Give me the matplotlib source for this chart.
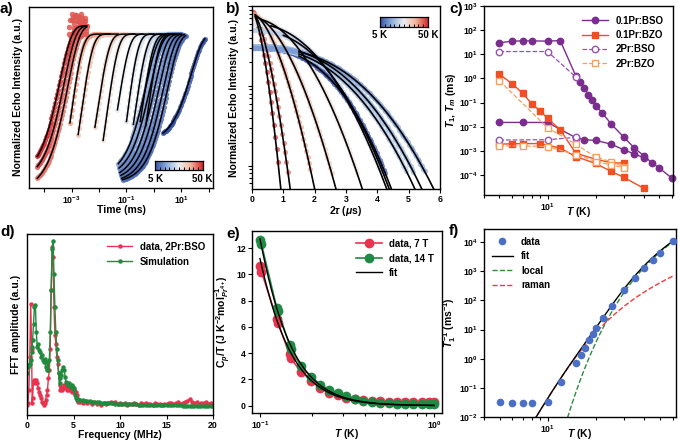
import numpy as np
import matplotlib
matplotlib.use('Agg')
import matplotlib.pyplot as plt
from matplotlib.colors import Normalize, LinearSegmentedColormap
from matplotlib.ticker import FixedLocator, FuncFormatter, NullFormatter, NullLocator

plt.rcParams['font.family'] = ['Liberation Sans', 'DejaVu Sans']
plt.rcParams['font.weight'] = 'bold'
plt.rcParams['axes.labelweight'] = 'bold'
plt.rcParams['mathtext.fontset'] = 'custom'
plt.rcParams['mathtext.rm'] = 'Liberation Sans:bold'
plt.rcParams['mathtext.it'] = 'Liberation Sans:italic:bold'
plt.rcParams['mathtext.bf'] = 'Liberation Sans:bold'
plt.rcParams['mathtext.sf'] = 'Liberation Sans:bold'
plt.rcParams['axes.linewidth'] = 1.0
plt.rcParams['xtick.labelsize'] = 6.3
plt.rcParams['ytick.labelsize'] = 6.3
plt.rcParams['xtick.major.size'] = 3
plt.rcParams['ytick.major.size'] = 3
plt.rcParams['xtick.minor.size'] = 2
plt.rcParams['ytick.minor.size'] = 2
plt.rcParams['xtick.major.pad'] = 1.5
plt.rcParams['ytick.major.pad'] = 1.5

# ---------------- data ----------------
# panel a: recovery curves (log10 times in ms)
a_T = [50, 47, 44, 40, 36, 33, 30, 27, 25, 23, 21, 19, 14, 12, 11, 10, 9, 8, 5]
a_start = [-4.25, -4.25, -4.25, -3.06, -2.76, -2.15, -1.85, -1.33, -1.0, -0.75, -0.5, -0.3,
           -1.3, -1.27, -1.24, -1.2, -1.17, -1.14, 0.33]
a_y0 = [0.16, 0.09, 0.01, 0.39, 0.31, 0.36, 0.27, 0.48, 0.40, 0.38, 0.40, 0.37,
        0.11, 0.08, 0.05, 0.03, 0.01, 0.0, 0.32]
a_mid = [-3.5, -3.37, -3.25, -2.82, -2.49, -1.88, -1.57, -1.1, -0.78, -0.5, -0.25, -0.05,
         -0.4, -0.25, -0.1, 0.05, 0.2, 0.35, 1.25]
a_end = [-2.45, -2.45, -2.45, -1.6, -1.3, -0.7, -0.4, 0.0, 0.3, 0.6, 0.8, 1.0,
         0.6, 0.75, 0.9, 1.0, 1.1, 1.15, 1.85]
a_top = [1.057, 1.057, 1.057] + [1.0] * 16
cloud_logt = [-3.10, -3.05, -3.0, -2.95, -2.9, -2.85, -2.8, -2.75, -2.7, -2.65, -2.6, -2.55, -2.5, -2.47,
              -3.08, -3.02, -2.97, -2.92, -2.87, -2.82, -2.77, -2.72, -2.67, -2.62, -2.57, -2.52, -2.48,
              -2.98, -2.88, -2.78, -2.68, -2.58]
cloud_y = [1.0, 1.10, 0.97, 1.12, 1.04, 1.13, 0.99, 1.09, 1.06, 1.14, 1.0, 1.08, 1.11, 1.02,
           1.05, 0.98, 1.10, 1.07, 1.13, 1.01, 1.12, 1.08, 0.99, 1.11, 1.05, 1.09, 1.0,
           1.14, 1.10, 1.04, 1.12, 1.08]

# panel b: echo decays (t_end where intensity reaches the axis floor)
b_T = [50, 45, 40, 35, 30, 26, 22, 5, 20, 17, 14]
b_tend = [0.92, 1.22, 2.0, 2.68, 3.52, 4.3, 4.38, 4.45, 5.2, 5.42, 5.8]
b_amp = [0.85, 0.85, 0.8, 0.75, 0.7, 0.6, 0.5, 0.3, 0.3, 0.32, 0.3]
b_n = [1.6, 1.6, 1.7, 1.8, 2.0, 2.2, 2.3, 2.6, 2.5, 2.5, 2.6]
b_fitstart = [0.1, 0.1, 0.1, 0.2, 0.3, 0.6, 1.0, 1.5, 1.5, 1.5, 1.5]
b_floor = 0.0051

# panel c: relaxation times (ms)
c_T_bso = [5, 6, 7, 8, 10, 12, 15, 16, 17, 18, 19, 20, 22, 25, 30, 35, 40, 45, 50, 60]
c_T1_bso = [30, 35, 36, 36, 35, 37, 1.3, 0.68, 0.4, 0.21, 0.13, 0.075, 0.037, 0.013,
            0.0037, 0.0013, 6.3e-4, 3.2e-4, 1.95e-4, 7.4e-5]
c_Tm_T_bso = [5, 7, 10, 15, 17, 20, 25, 30, 35, 40]
c_Tm_bso = [0.015, 0.015, 0.015, 0.0035, 0.0029, 0.0027, 0.0019, 0.0011, 7.4e-4, 5.2e-4]
c_T_bzo = [5, 6, 7, 8, 9, 10, 12, 15, 20, 25, 30]
c_T1_bzo = [1.5, 0.6, 0.24, 0.085, 0.045, 0.022, 0.0075, 8e-4, 4.5e-4, 3.2e-4, 3.1e-4]
c_Tm_T_bzo = [5, 6, 7, 9, 12, 15, 20, 25, 30, 40]
c_Tm_bzo = [1.9e-3, 1.95e-3, 2.0e-3, 2.0e-3, 1.3e-3, 5.8e-4, 3.0e-4, 1.4e-4, 8e-5, 2.8e-5]
c_T_2bso = [5, 10, 15]
c_T1_2bso = [13, 13, 1.15]
c_Tm_2bso = [2.8e-3, 2.9e-3, 3.6e-3]
c_T_2bzo = [5, 10, 15, 20, 25, 30]
c_T1_2bzo = [0.8, 0.009, 0.0019, 5.5e-4, 3.5e-4, 2.2e-4]
c_Tm_T_2bzo = [5, 7, 10, 15, 20, 25, 30]
c_Tm_2bzo = [1.6e-3, 1.6e-3, 1.5e-3, 7e-4, 3.6e-4, 2.6e-4, 2.0e-4]

# panel d: FFT spectra
d_freq = [0.0, 0.1, 0.2, 0.3, 0.4, 0.5, 0.55, 0.6, 0.7, 0.8, 0.9, 1.0, 1.1, 1.2, 1.3, 1.4, 1.5, 1.6,
          1.7, 1.8, 1.9, 2.0, 2.1, 2.2, 2.3, 2.4, 2.5, 2.6, 2.7, 2.8, 2.9, 3.0, 3.1, 3.2, 3.3, 3.4,
          3.5, 3.6, 3.7, 3.8, 3.9, 4.0, 4.1, 4.2, 4.3, 4.4, 4.5, 4.6, 4.7, 4.8, 4.9, 5.0, 5.1, 5.2,
          5.3, 5.4, 5.5]
d_data = [0.01, 0.02, 0.10, 0.30, 0.62, 0.35, 0.02, 0.05, 0.16, 0.15, 0.14, 0.16, 0.14, 0.11,
          0.09, 0.07, 0.05, 0.03, 0.02, 0.01, 0.02, 0.04, 0.07, 0.10, 0.17, 0.22, 0.35, 0.70, 0.96,
          0.90, 0.60, 0.43, 0.38, 0.30, 0.26, 0.20, 0.13, 0.10, 0.11, 0.10, 0.11, 0.13, 0.12, 0.11,
          0.10, 0.11, 0.10, 0.11, 0.10, 0.09, 0.10, 0.09, 0.10, 0.08, 0.09, 0.07, 0.03]
d_sim = [0.20, 0.24, 0.25, 0.26, 0.28, 0.33, 0.36, 0.40, 0.50, 0.60, 0.61, 0.45, 0.36, 0.38,
         0.34, 0.33, 0.30, 0.31, 0.28, 0.27, 0.29, 0.24, 0.22, 0.27, 0.22, 0.28, 0.45, 0.70, 0.95,
         1.0, 0.80, 0.60, 0.45, 0.35, 0.28, 0.20, 0.14, 0.17, 0.19, 0.22, 0.24, 0.22, 0.18, 0.15,
         0.14, 0.13, 0.14, 0.13, 0.12, 0.13, 0.12, 0.11, 0.10, 0.07, 0.05, 0.04, 0.045]
d_tail_freq = [5.75, 6.0, 6.25, 6.5, 6.75, 7.0, 7.25, 7.5, 7.75, 8.0, 8.25, 8.5, 8.75, 9.0, 9.25,
               9.5, 9.75, 10.0, 10.25, 10.5, 10.75, 11.0, 11.25, 11.5, 11.75, 12.0, 12.25, 12.5,
               12.75, 13.0, 13.25, 13.5, 13.75, 14.0, 14.25, 14.5, 14.75, 15.0, 15.25, 15.5, 15.75,
               16.0, 16.25, 16.5, 16.75, 17.0, 17.25, 17.5, 17.75, 18.0, 18.25, 18.5, 18.75, 19.0,
               19.25, 19.5, 19.75, 20.0]
d_tail_data = [0.030, 0.025, 0.032, 0.022, 0.028, 0.018, 0.026, 0.015, 0.020, 0.012, 0.022, 0.016,
               0.025, 0.030, 0.022, 0.027, 0.018, 0.024, 0.015, 0.020, 0.013, 0.019, 0.014, 0.022,
               0.016, 0.012, 0.020, 0.015, 0.023, 0.014, 0.018, 0.012, 0.021, 0.015, 0.019, 0.011,
               0.017, 0.014, 0.020, 0.025, 0.016, 0.022, 0.028, 0.018, 0.024, 0.030, 0.035, 0.045,
               0.030, 0.022, 0.028, 0.018, 0.024, 0.020, 0.030, 0.018, 0.025, 0.015]
d_tail_sim = [0.040, 0.038, 0.036, 0.034, 0.032, 0.030, 0.029, 0.027, 0.026, 0.025, 0.024, 0.023,
              0.022, 0.021, 0.020, 0.019, 0.019, 0.018, 0.017, 0.016, 0.016, 0.015, 0.015, 0.014,
              0.014, 0.013, 0.013, 0.012, 0.012, 0.011, 0.011, 0.011, 0.010, 0.010, 0.010, 0.009,
              0.009, 0.009, 0.009, 0.008, 0.008, 0.008, 0.008, 0.008, 0.007, 0.007, 0.007, 0.007,
              0.007, 0.0065, 0.0065, 0.0065, 0.006, 0.006, 0.006, 0.006, 0.0055, 0.0055]

# panel e: heat capacity
e_T = [0.100, 0.102, 0.125, 0.127, 0.148, 0.150, 0.172, 0.197, 0.222, 0.25, 0.28, 0.31, 0.35,
       0.39, 0.44, 0.49, 0.55, 0.61, 0.68, 0.76, 0.85, 0.93, 1.0]
e_7T = [10.6, 10.2, 6.6, 6.3, 3.9, 3.6, 2.6, 1.9, 1.35, 1.0, 0.8, 0.6, 0.5, 0.42, 0.36, 0.32,
        0.30, 0.28, 0.27, 0.26, 0.26, 0.25, 0.25]
e_14T = [12.6, 12.3, 7.4, 7.2, 4.6, 4.3, 3.0, 2.2, 1.6, 1.2, 0.95, 0.7, 0.5, 0.38, 0.3, 0.22,
         0.18, 0.15, 0.13, 0.12, 0.11, 0.11, 0.10]
e_fit_at_01 = [11.2, 12.7]
e_gap = 0.125

# panel f: relaxation rate
f_T = [5, 6, 7, 8, 10, 12, 15, 16, 17, 18, 19, 20, 22, 25, 30, 35, 40, 45, 50, 60]
f_rate = [0.033, 0.031, 0.031, 0.031, 0.032, 0.16, 0.7, 1.3, 2.4, 4.4, 7, 11, 24, 65, 230, 600,
          1300, 2400, 4200, 10800]
f_delta = 236.0
f_local_at60 = 10000.0
f_theta = 150.0
f_raman_at20 = 8.0

# ---------------- figure ----------------
W, H = 678, 445
fig = plt.figure(figsize=(W / 100, H / 100), dpi=100)


def px_axes(l, t, r, b):
    return fig.add_axes([l / W, 1 - b / H, (r - l) / W, (b - t) / H])


cmap = LinearSegmentedColormap.from_list(
    'tk', ['#3553a6', '#8fb0de', '#eeeef2', '#f3b49a', '#d3262b'])
norm = Normalize(5, 50)
LBL = 7.5


def logfmt_sel(keep):
    def f(v, p):
        e = int(round(np.log10(v)))
        return r'$\mathdefault{10^{%d}}$' % e if e in keep else ''
    return FuncFormatter(f)


def colorbar_inset(l, t, r, b, lx, rx, ty):
    cax = px_axes(l, t, r, b)
    grad = np.linspace(0, 1, 256)[None, :]
    cax.imshow(grad, aspect='auto', cmap=cmap, extent=[0, 1, 0, 1])
    cax.set_yticks([])
    cax.set_xticks(np.linspace(0.1, 0.9, 9))
    cax.set_xticklabels([])
    cax.tick_params(axis='x', direction='in', length=2, width=0.7)
    for s in cax.spines.values():
        s.set_linewidth(0.9)
    fig.text(lx / W, 1 - ty / H, '5 K', fontsize=7, ha='left', va='center')
    fig.text(rx / W, 1 - ty / H, '50 K', fontsize=7, ha='right', va='center')


def set_xlabel_at(ax, text, top_px, ax_bottom_px, ax_h_px):
    ax.set_xlabel(text, fontsize=LBL, va='top')
    ax.xaxis.set_label_coords(0.5, -(top_px - ax_bottom_px) / ax_h_px)


# ---- panel a ----
axa = px_axes(29, 7, 213, 188)
axa.set_xscale('log')
for i in range(len(a_T)):
    ts = 10 ** a_start[i]
    tm = 10 ** a_mid[i]
    P = a_top[i]
    T1 = (tm - ts) / np.log(2)
    col = cmap(norm(min(a_T[i], 50)))
    tl = np.logspace(a_start[i], a_end[i], 200)
    yl = P - (P - a_y0[i]) * np.exp(-(tl - ts) / T1)
    npts = int((a_end[i] - a_start[i]) / 0.035) + 2
    tp = np.logspace(a_start[i], a_end[i], npts)
    yp = P - (P - a_y0[i]) * np.exp(-(tp - ts) / T1)
    axa.scatter(tp, yp, s=14, color=col, alpha=0.8, linewidths=0, zorder=1)
    axa.plot(tl, yl, color='black', lw=1.1, zorder=3)
axa.scatter(10 ** np.array(cloud_logt), cloud_y, s=16, color=cmap(norm(46)), alpha=0.85,
            linewidths=0, zorder=1)
axa.set_xlim(10 ** -4.55, 10 ** 2.15)
axa.set_ylim(-0.057, 1.186)
axa.set_yticks([])
axa.xaxis.set_major_locator(FixedLocator([1e-4, 1e-3, 1e-2, 1e-1, 1, 10, 100]))
axa.xaxis.set_major_formatter(logfmt_sel((-3, -1, 1)))
axa.xaxis.set_minor_locator(NullLocator())
set_xlabel_at(axa, 'Time (ms)', 205, 188, 181)
axa.set_ylabel('Normalized Echo Intensity (a.u.)', fontsize=LBL, labelpad=4)
colorbar_inset(155, 161, 203, 170, 148, 213, 179)

# ---- panel b ----
axb = px_axes(252, 6, 440, 189)
axb.set_yscale('log')
for i in range(len(b_T)):
    A = b_amp[i]
    Tm = b_tend[i] / np.log(A / b_floor) ** (1.0 / b_n[i])
    col = cmap(norm(b_T[i]))
    tp = np.arange(0.02, b_tend[i], 0.045)
    yp = A * np.exp(-(tp / Tm) ** b_n[i])
    m = yp > 0.008
    axb.scatter(tp[m], yp[m], s=14, color=col, alpha=0.65, linewidths=0, zorder=1)
    tl = np.linspace(b_fitstart[i], b_tend[i], 300)
    yl = A * np.exp(-(tl / Tm) ** b_n[i])
    axb.plot(tl, yl, color='black', lw=1.2, zorder=3)
axb.set_xlim(0, 6)
axb.set_ylim(b_floor, 1.0)
axb.set_xticks([0, 1, 2, 3, 4, 5, 6])
axb.yaxis.set_major_formatter(NullFormatter())
axb.yaxis.set_minor_formatter(NullFormatter())
set_xlabel_at(axb, r'2$\tau$ ($\mu$s)', 204, 189, 183)
axb.set_ylabel('Normalized Echo Intensity (a.u.)', fontsize=LBL, labelpad=4)
colorbar_inset(380, 17, 428, 27, 372, 438, 35)

# ---- panel c ----
axc = px_axes(484, 6, 673, 195)
axc.set_xscale('log')
axc.set_yscale('log')
PUR = '#7b2d8e'
PUR2 = '#9c4fb3'
ORG = '#f04e23'
ORG2 = '#f5a05e'
MS = 4.6
axc.plot(c_T_bso, c_T1_bso, '-o', color=PUR, ms=MS, lw=1.0, label='0.1Pr:BSO', clip_on=False)
axc.plot(c_Tm_T_bso, c_Tm_bso, '-o', color=PUR, ms=MS, lw=1.0, clip_on=False)
axc.plot(c_T_bzo, c_T1_bzo, '-s', color=ORG, ms=MS, lw=1.0, label='0.1Pr:BZO')
axc.plot(c_Tm_T_bzo, c_Tm_bzo, '-s', color=ORG, ms=MS, lw=1.0)
axc.plot(c_T_2bso, c_T1_2bso, '--o', color=PUR2, ms=MS, lw=0.9, mfc='white', label='2Pr:BSO')
axc.plot(c_T_2bso, c_Tm_2bso, '--o', color=PUR2, ms=MS, lw=0.9, mfc='white')
axc.plot(c_T_2bzo, c_T1_2bzo, '--s', color=ORG2, ms=MS, lw=0.9, mfc='white', label='2Pr:BZO')
axc.plot(c_Tm_T_2bzo, c_Tm_2bzo, '--s', color=ORG2, ms=MS, lw=0.9, mfc='white')
axc.set_xlim(4.0, 61)
axc.set_ylim(10 ** -4.83, 1e3)
axc.xaxis.set_major_locator(FixedLocator([10]))
axc.xaxis.set_major_formatter(FuncFormatter(lambda v, p: r'$\mathdefault{10^{1}}$'))
axc.xaxis.set_minor_locator(FixedLocator([4, 5, 6, 7, 8, 9, 20, 30, 40, 50, 60]))
axc.xaxis.set_minor_formatter(NullFormatter())
axc.yaxis.set_major_locator(FixedLocator([1e-4, 1e-3, 1e-2, 1e-1, 1, 10, 100, 1000]))
axc.yaxis.set_minor_locator(NullLocator())
set_xlabel_at(axc, r'$T$ (K)', 205, 195, 189)
axc.set_ylabel(r'$T_1$, $T_m$ (ms)', fontsize=LBL, labelpad=1)
axc.legend(loc='upper right', frameon=False, fontsize=7, handlelength=2.6, borderaxespad=0.6,
           labelspacing=0.45)

# ---- panel d ----
axd = px_axes(27, 234, 213, 415)
DRED = '#e8334f'
DGRN = '#1f8b3d'
axd.plot(d_freq + d_tail_freq, d_data + d_tail_data, '-o', color=DRED, ms=2.2, lw=1.0,
         label='data, 2Pr:BSO')
axd.plot(d_freq + d_tail_freq, d_sim + d_tail_sim, '-o', color=DGRN, ms=2.2, lw=1.0,
         label='Simulation')
axd.set_xlim(0, 20)
axd.set_ylim(-0.05, 1.04)
axd.set_yticks([])
axd.set_xticks([0, 5, 10, 15, 20])
set_xlabel_at(axd, 'Frequency (MHz)', 430, 415, 181)
axd.set_ylabel('FFT amplitude (a.u.)', fontsize=LBL, labelpad=4)
axd.legend(loc='upper right', frameon=False, fontsize=7, handlelength=2.6, borderaxespad=0.4,
           labelspacing=0.5)

# ---- panel e ----
axe = px_axes(252, 231, 442, 413)
axe.set_xscale('log')
ERED = '#e8344e'
EGRN = '#1f8a44'
axe.plot(e_T, e_7T, '-o', color=ERED, ms=6, lw=1.2, label='data, 7 T', zorder=2)
axe.plot(e_T, e_14T, '-o', color=EGRN, ms=6, lw=1.2, label='data, 14 T', zorder=2)
tt = np.logspace(-1, 0, 300)


def schottky_over_T(T, gap):
    x = gap / T
    return x ** 2 * np.exp(x) / (1 + np.exp(x)) ** 2 / T


for k, v01 in enumerate(e_fit_at_01):
    amp = v01 / schottky_over_T(0.1, e_gap)
    axe.plot(tt, amp * schottky_over_T(tt, e_gap), color='black', lw=1.0, zorder=3,
             label='fit' if k == 0 else None)
axe.set_xlim(0.09, 1.11)
axe.set_ylim(-0.56, 13.3)
axe.set_yticks([0, 2, 4, 6, 8, 10, 12])
axe.xaxis.set_major_locator(FixedLocator([0.1, 1.0]))
axe.xaxis.set_major_formatter(logfmt_sel((-1, 0)))
axe.xaxis.set_minor_locator(FixedLocator([0.2, 0.3, 0.4, 0.5, 0.6, 0.7, 0.8, 0.9]))
axe.xaxis.set_minor_formatter(NullFormatter())
set_xlabel_at(axe, r'$T$ (K)', 427, 413, 182)
axe.set_ylabel(r'C$_p$/T (J K$^{-2}$mol$_{Pr^{4+}}^{-1}$)', fontsize=LBL, labelpad=2)
axe.legend(loc='upper right', frameon=False, fontsize=7, handlelength=2.6, borderaxespad=0.4,
           labelspacing=0.45)

# ---- panel f ----
axf = px_axes(484, 229, 676, 417)
axf.set_xscale('log')
axf.set_yscale('log')
Tf = np.logspace(np.log10(4), np.log10(60), 400)


def J8(x):
    t = np.linspace(1e-6, x, 3000)
    return np.trapezoid(t ** 8 * np.exp(t) / (np.exp(t) - 1) ** 2, t)


def raman_shape(T):
    return np.array([(TT / f_theta) ** 9 * J8(f_theta / TT) for TT in np.atleast_1d(T)])


ram = f_raman_at20 / raman_shape(20.0)[0] * raman_shape(Tf)
loc_amp = f_local_at60 * (np.exp(f_delta / 60.0) - 1)
loc = loc_amp / (np.exp(f_delta / Tf) - 1)
axf.plot(f_T, f_rate, 'o', color='#4a6fc4', ms=4.5, label='data', zorder=4, clip_on=False)
axf.plot(Tf, loc + ram, color='black', lw=1.0, label='fit', zorder=3)
axf.plot(Tf, loc, '--', color='#2e8b3e', lw=1.0, label='local', zorder=2)
axf.plot(Tf, ram, '--', color='#f03c3c', lw=1.0, label='raman', zorder=2)
axf.set_xlim(4.0, 63)
axf.set_ylim(1e-2, 10 ** 4.45)
axf.xaxis.set_major_locator(FixedLocator([10]))
axf.xaxis.set_major_formatter(FuncFormatter(lambda v, p: r'$\mathdefault{10^{1}}$'))
axf.xaxis.set_minor_locator(FixedLocator([4, 5, 6, 7, 8, 9, 20, 30, 40, 50, 60]))
axf.xaxis.set_minor_formatter(NullFormatter())
axf.yaxis.set_major_locator(FixedLocator([1e-2, 1e-1, 1, 10, 100, 1e3, 1e4]))
axf.yaxis.set_minor_locator(NullLocator())
set_xlabel_at(axf, r'$T$ (K)', 427, 417, 188)
axf.set_ylabel(r'$T_1^{-1}$ (ms$^{-1}$)', fontsize=LBL, labelpad=1)
axf.legend(loc='upper left', frameon=False, fontsize=7, handlelength=2.2, borderaxespad=0.4,
           labelspacing=0.45)

for ax in (axa, axb, axc, axd, axe, axf):
    ax.tick_params(which='both', direction='out', width=0.8)

# panel letters
for lab, x, y in [('a)', 0, 2), ('b)', 226, 2), ('c)', 449, 2), ('d)', 0, 225), ('e)', 226, 227),
                  ('f)', 449, 224)]:
    fig.text(x / W, 1 - y / H, lab, fontsize=11, fontweight='bold', ha='left', va='top')

fig.savefig('out.png', dpi=100)
